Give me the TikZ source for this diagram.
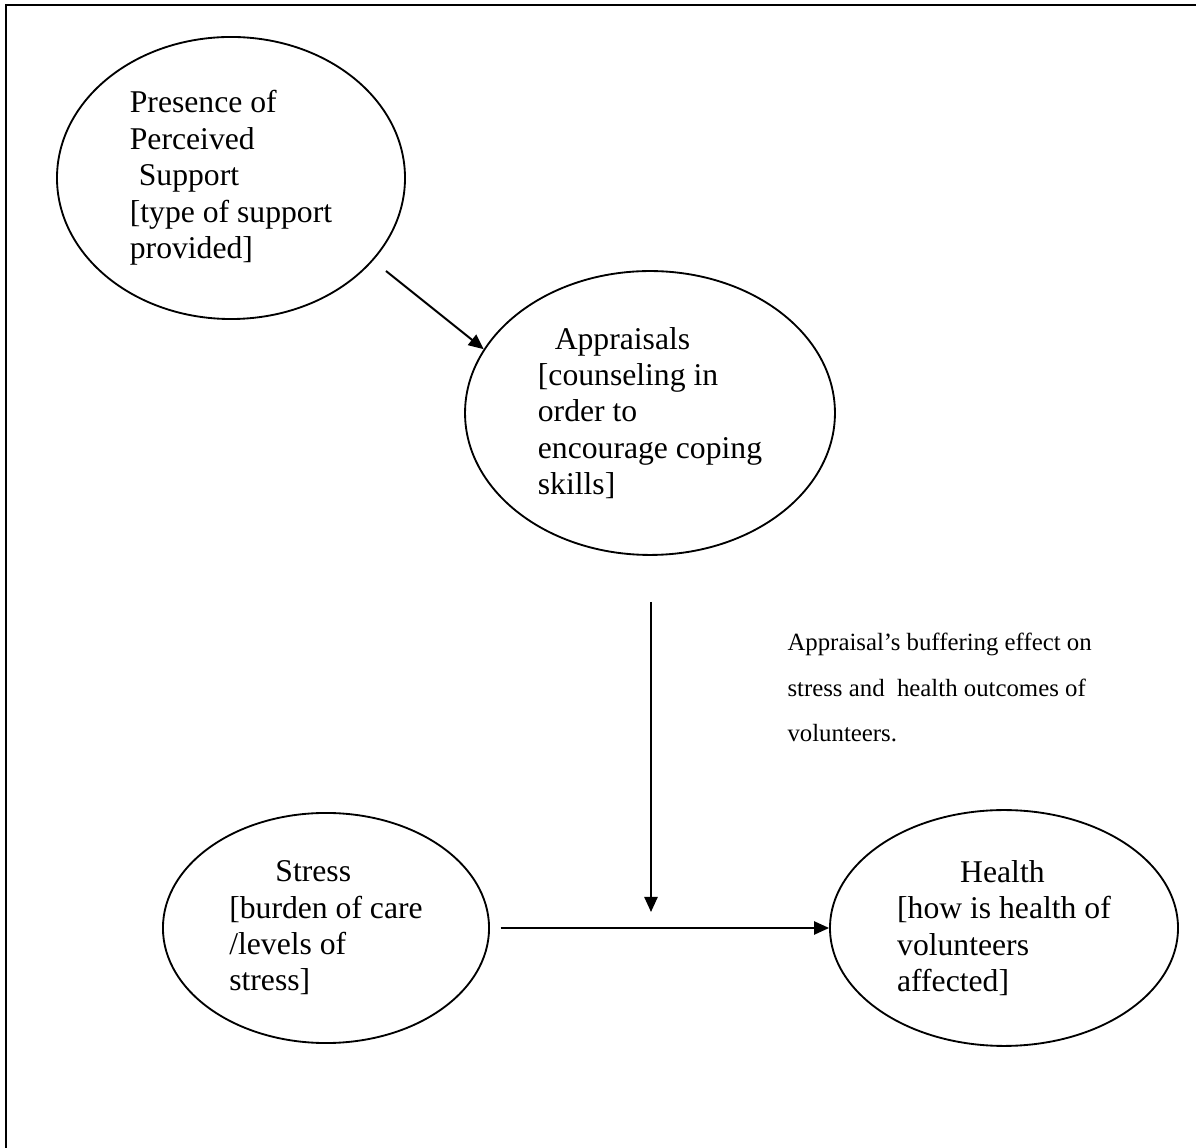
\documentclass[tikz,border=0pt]{standalone}
\usepackage{fontspec}
\setmainfont{Liberation Serif}
\usepackage{tikz}
\usetikzlibrary{shapes.geometric,arrows.meta}

\tikzset{
  bubble/.style={draw, ellipse, inner sep=0pt, line width=0.7pt, align=left,
    font=\fontsize{12}{13.8}\selectfont},
  arr/.style={-{Triangle[length=5.7pt,width=5pt]}, line width=0.75pt},
  note/.style={align=left, inner sep=0pt, font=\fontsize{9.4}{17.4}\selectfont}
}

\begin{document}
\begin{tikzpicture}[x=0.379pt, y=-0.379pt]
 \useasboundingbox (0,0) rectangle (1196,1148);

 % page frame (top and left edge only)
 \draw[line width=0.8pt] (1196,5) -- (6,5) -- (6,1148);

 % the four ellipses
 \node (supp) [bubble, minimum width=131.9pt, minimum height=106.9pt] at (231,178)
   {Presence of\\Perceived\\\hspace{3.4pt}Support\\{[}type of support\\provided]};
 \node (appr) [bubble, minimum width=140.2pt, minimum height=107.6pt] at (650,413)
   {\hspace{6.4pt}Appraisals\\{[}counseling in\\order to\\encourage coping\\skills]};
 \node (stress) [bubble, minimum width=123.6pt, minimum height=87.2pt] at (326,928)
   {\hspace{17.5pt}Stress\\{[}burden of care\\/levels of\\stress]};
 \node (health) [bubble, minimum width=131.9pt, minimum height=89.4pt] at (1004,928)
   {\hspace{23.9pt}Health\\{[}how is health of\\volunteers\\affected]};

 % support -> appraisals
 \coordinate (s1) at (386,271);
 \draw[arr] (s1) -- (appr.159);

 % stress -> health
 \draw[arr, shorten <=4pt] (stress) -- (health);

 % buffering effect, onto the stress-health line
 \coordinate (b1) at (651,602);
 \coordinate (b2) at (651,912);
 \draw[arr] (b1) -- (b2);
 \node (buffer) [note, anchor=base west] at (787,742) % base = last line
   {Appraisal’s buffering effect on\\stress and \ health outcomes of\\volunteers.};

\end{tikzpicture}
\end{document}
